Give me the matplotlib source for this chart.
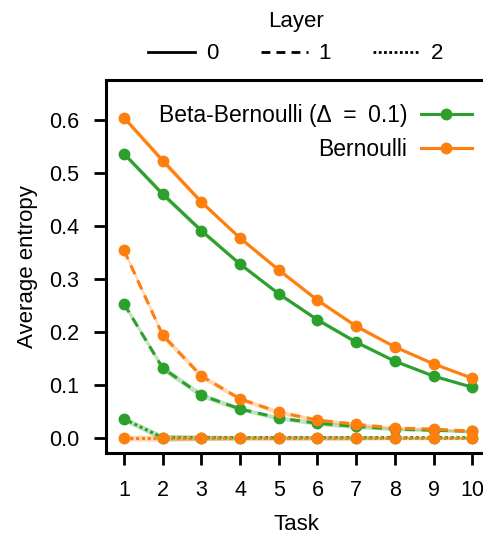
import numpy as np
import matplotlib.pyplot as plt
from matplotlib.lines import Line2D

plt.rcParams['font.family'] = ['Liberation Sans', 'DejaVu Sans']

tasks = np.arange(1, 11)

# Beta-Bernoulli (green)
bb_layer0 = [0.536, 0.460, 0.391, 0.328, 0.272, 0.223, 0.181, 0.145, 0.117, 0.096]
bb_layer1 = [0.253, 0.132, 0.081, 0.055, 0.038, 0.028, 0.022, 0.017, 0.015, 0.013]
bb_layer2 = [0.036, 0.001, 0.001, 0.001, 0.001, 0.001, 0.001, 0.001, 0.001, 0.001]

# Bernoulli (orange)
b_layer0 = [0.604, 0.523, 0.445, 0.377, 0.317, 0.260, 0.211, 0.172, 0.140, 0.113]
b_layer1 = [0.354, 0.194, 0.117, 0.074, 0.049, 0.034, 0.026, 0.019, 0.017, 0.013]
b_layer2 = [0.000, 0.000, 0.000, 0.000, 0.000, 0.000, 0.000, 0.000, 0.000, 0.000]

# shaded spread around each curve
spread = [0.005, 0.006, 0.005, 0.004, 0.004, 0.004, 0.004, 0.003, 0.003, 0.003]

green = '#2ca02c'
orange = '#ff7f0e'
FS = 16

styles = {'-': '-', '--': (0, (3.2, 2.2)), ':': (0, (1.0, 0.9))}

fig = plt.figure(figsize=(4.83, 5.38), dpi=100)
ax = fig.add_axes([106 / 483, 1 - 453 / 538, 380 / 483, 373 / 538])

series = [
    (bb_layer0, green, '-'), (bb_layer1, green, '--'), (bb_layer2, green, ':'),
    (b_layer0, orange, '-'), (b_layer1, orange, '--'), (b_layer2, orange, ':'),
]
for vals, col, ls in series:
    vals = np.array(vals)
    sp = np.array(spread)
    ax.fill_between(tasks, vals - sp, vals + sp, color=col, alpha=0.3, lw=0)
    ax.plot(tasks, vals, color=col, ls=styles[ls], lw=2.2, marker='o', ms=7.5)

ax.set_xlim(0.535, 10.355)
ax.set_ylim(-0.028, 0.675)
ax.set_xticks(tasks)
ax.set_yticks([0.0, 0.1, 0.2, 0.3, 0.4, 0.5, 0.6])
ax.set_yticklabels(['0.0', '0.1', '0.2', '0.3', '0.4', '0.5', '0.6'])
ax.set_xlabel('Task', fontsize=FS, labelpad=9)
ax.set_ylabel('Average entropy', fontsize=FS, labelpad=8)
ax.tick_params(labelsize=15.5, width=2, length=8.5)
ax.tick_params(axis='x', pad=11)
ax.tick_params(axis='y', pad=11)
for s in ax.spines.values():
    s.set_linewidth(2.2)

# method legend
h_bb = Line2D([], [], color=green, lw=2.2, marker='o', ms=7.5)
h_b = Line2D([], [], color=orange, lw=2.2, marker='o', ms=7.5)
leg1 = ax.legend([h_bb, h_b], ['Beta-Bernoulli (\u0394\u2002=\u20020.1)', 'Bernoulli'],
                 loc='upper right', bbox_to_anchor=(0.986, 0.959), frameon=False,
                 markerfirst=False, fontsize=16.5, handlelength=2.2,
                 handletextpad=0.6, borderaxespad=0.0, labelspacing=0.45)
ax.add_artist(leg1)

# layer legend
layer_handles = [Line2D([], [], color='black', lw=2, ls='-'),
                 Line2D([], [], color='black', lw=2, ls=(0, (3.2, 2.2))),
                 Line2D([], [], color='black', lw=2, ls=(0, (1.0, 0.9)))]
ax.legend(layer_handles, ['0', '1', '2'], title='Layer', loc='lower center',
          bbox_to_anchor=(0.5, 1.0), ncol=3, frameon=False, fontsize=FS,
          title_fontsize=FS, handlelength=2.1, handletextpad=0.5,
          columnspacing=1.9, borderaxespad=0.3)

plt.savefig('out.png', dpi=100)
